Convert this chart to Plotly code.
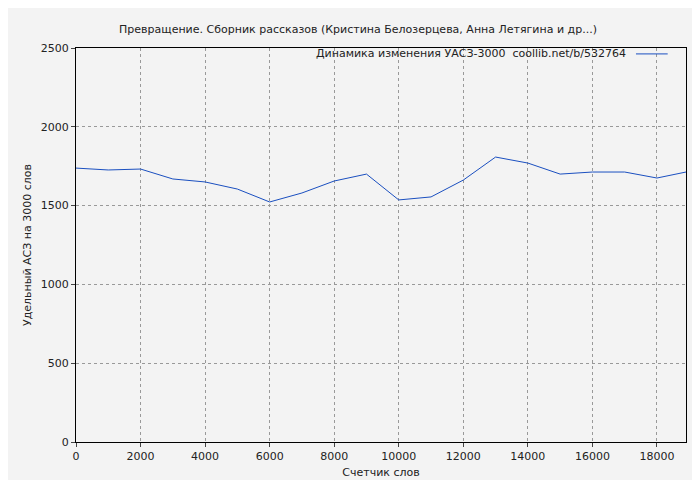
import plotly.graph_objects as go

x_words = [0,1000,2000,3000,4000,5000,6000,7000,8000,9000,10000,11000,12000,13000,14000,15000,16000,17000,18000,18900]
y_vals = [1738,1726,1732,1669,1650,1605,1523,1580,1656,1700,1536,1555,1662,1808,1770,1700,1713,1713,1675,1713]
legend_label = "Динамика изменения УАСЗ-3000  coollib.net/b/532764"

fig = go.Figure(go.Scatter(x=x_words, y=y_vals, mode="lines", line=dict(color="#1a4fc0", width=1),
                           name=legend_label, showlegend=False))
fig.add_annotation(text=legend_label, xref="paper", yref="paper", x=0.905, y=0.985,
                   xanchor="right", yanchor="middle", showarrow=False, font=dict(size=11))
fig.add_shape(type="line", xref="paper", yref="paper", x0=0.918, x1=0.97, y0=0.985, y1=0.985,
              line=dict(color="#1a4fc0", width=1))
fig.update_layout(
    width=700, height=480, paper_bgcolor="#f3f3f3", plot_bgcolor="#f3f3f3",
    margin=dict(l=68, r=22, t=40, b=46, autoexpand=False),
    font=dict(family="DejaVu Sans", size=11, color="#222"),
    title=dict(text="Превращение. Сборник рассказов (Кристина Белозерцева, Анна Летягина и др...)",
               x=0.5, xanchor="center", y=0.965, font=dict(size=11)),
    xaxis=dict(title=dict(text="Счетчик слов", standoff=6, font=dict(size=11)), range=[0,18900], tick0=0, dtick=2000,
               tickformat="d", automargin=False,
               showgrid=True, gridcolor="#999", griddash="dot", showline=True, linecolor="#000",
               mirror=True, ticks="outside", ticklen=4, zeroline=False),
    yaxis=dict(title=dict(text="Удельный АСЗ на 3000 слов", standoff=6, font=dict(size=11)), range=[0,2500], dtick=500,
               tickformat="d", automargin=False,
               showgrid=True, gridcolor="#999", griddash="dot", showline=True, linecolor="#000",
               mirror=True, ticks="outside", ticklen=4, zeroline=False),
)
fig.write_html("out.html")
